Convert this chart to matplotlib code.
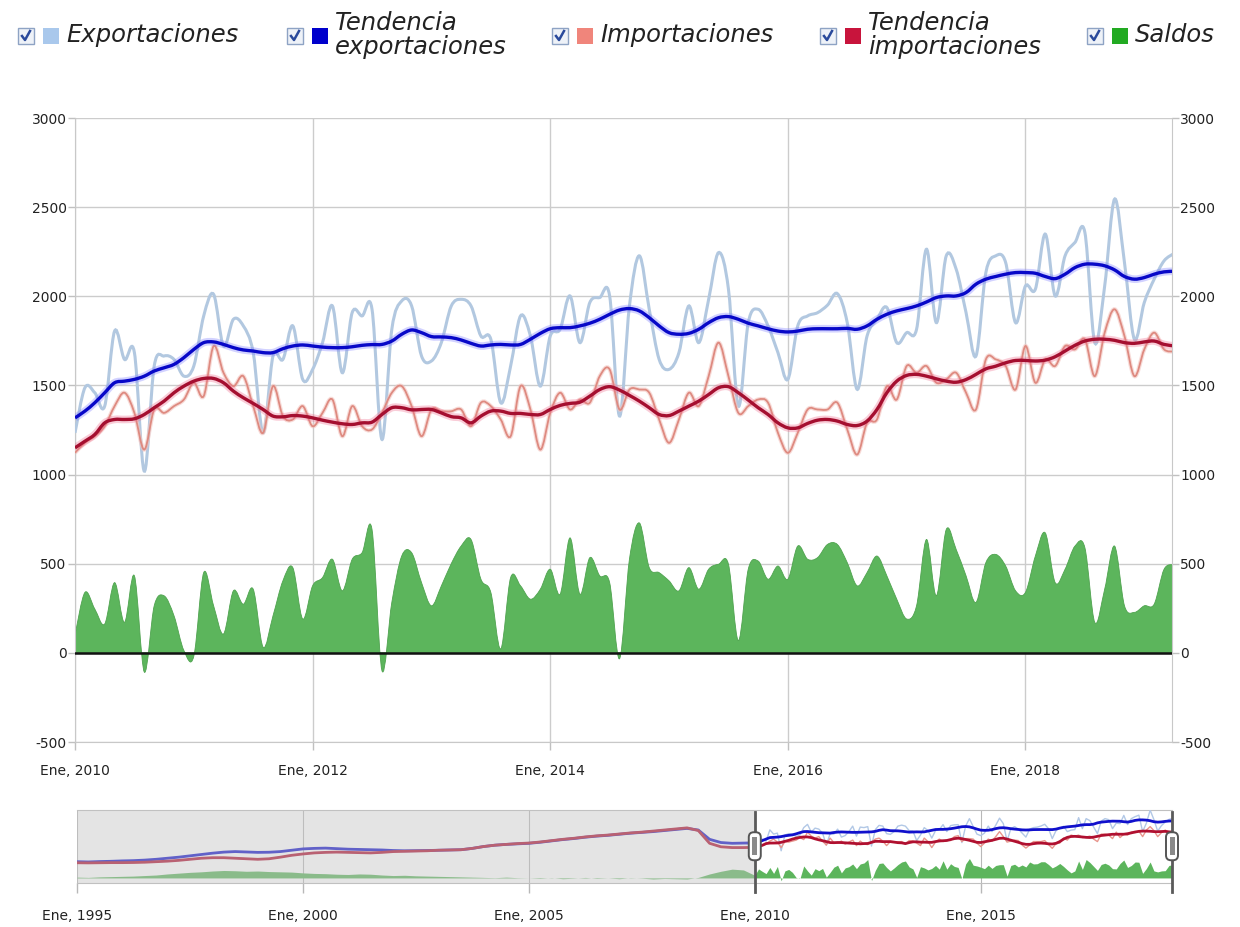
import numpy as np
import matplotlib
matplotlib.use("Agg")
import matplotlib.pyplot as plt
import matplotlib.transforms as mtransforms
from matplotlib.path import Path
from matplotlib.patches import PathPatch, Rectangle, FancyBboxPatch
from matplotlib.lines import Line2D

plt.rcParams["axes.unicode_minus"] = False

# monthly data, Ene 2010 .. Abr 2019 (last month only partly visible)
exportaciones = [1234, 1487, 1459, 1384, 1805, 1646, 1684, 1019, 1609, 1665, 1646, 1552, 1609, 1890, 2011,
                 1721, 1871, 1834, 1684, 1234, 1665, 1646, 1834, 1534, 1590, 1740, 1946, 1571, 1909, 1890,
                 1927, 1197, 1815, 1974, 1946, 1665, 1637, 1740, 1945,
                 1983, 1946, 1777, 1759, 1403, 1609, 1890, 1777, 1496, 1777, 1815, 2002, 1740, 1965, 1993,
                 2002, 1328, 1946, 2227, 1927, 1646, 1590, 1684, 1946, 1740, 1983, 2245, 2040, 1384, 1852,
                 1927, 1834, 1684, 1534, 1834, 1890, 1908, 1950, 2015,
                 1852, 1478, 1777, 1871, 1937, 1740, 1796, 1815, 2264, 1852, 2227, 2152, 1908, 1665, 2133,
                 2227, 2189, 1852, 2058, 2040, 2349, 2002, 2227, 2302, 2358, 1740, 2058, 2545, 2189, 1759,
                 1965, 2096, 2199, 2240]
importaciones = [1122, 1178, 1215, 1271, 1384, 1459, 1346, 1140, 1365, 1346, 1384, 1421, 1515, 1440, 1721,
                 1571, 1496, 1552, 1384, 1234, 1496, 1328, 1309, 1384, 1271, 1346, 1421, 1215, 1384, 1271,
                 1253, 1346, 1459, 1496, 1384, 1215, 1365, 1355, 1355,
                 1365, 1271, 1403, 1384, 1309, 1215, 1496, 1365, 1140, 1346, 1459, 1365, 1421, 1403, 1552,
                 1590, 1365, 1477, 1477, 1459, 1309, 1178, 1309, 1459, 1384, 1552, 1740, 1552, 1346, 1384,
                 1421, 1403, 1234, 1122, 1234, 1365, 1365, 1365, 1403,
                 1253, 1112, 1290, 1309, 1496, 1421, 1609, 1571, 1609, 1515, 1534, 1571, 1459, 1365, 1646,
                 1646, 1609, 1477, 1721, 1515, 1646, 1609, 1721, 1702, 1759, 1552, 1796, 1927, 1777, 1552,
                 1702, 1796, 1702, 1690]
tend_exportaciones = [1318, 1356, 1403, 1459, 1515, 1524, 1534, 1552, 1581, 1599, 1618, 1656, 1702, 1740, 1744,
                      1730, 1712, 1699, 1693, 1684, 1684, 1706, 1721, 1727, 1721, 1715, 1712, 1712, 1717, 1725,
                      1729, 1730, 1749, 1787, 1811, 1796, 1774, 1772, 1768,
                      1755, 1736, 1721, 1727, 1730, 1727, 1730, 1759, 1792, 1818, 1824, 1824, 1834, 1849, 1871,
                      1899, 1923, 1931, 1918, 1880, 1834, 1796, 1787, 1792, 1815, 1852, 1880, 1886, 1871, 1849,
                      1834, 1818, 1805, 1800, 1805, 1815, 1818, 1818, 1818,
                      1820, 1815, 1834, 1871, 1899, 1918, 1931, 1946, 1968, 1993, 2002, 2002, 2021, 2068, 2096,
                      2111, 2124, 2133, 2133, 2129, 2111, 2099, 2124, 2161, 2180, 2180, 2171, 2148, 2111, 2096,
                      2105, 2124, 2137, 2140]
tend_importaciones = [1150, 1187, 1225, 1290, 1309, 1309, 1313, 1337, 1375, 1412, 1459, 1496, 1524, 1539, 1539,
                      1515, 1468, 1431, 1399, 1365, 1328, 1324, 1331, 1328, 1318, 1305, 1294, 1285, 1281, 1290,
                      1294, 1337, 1375, 1375, 1363, 1365, 1365, 1346, 1325,
                      1318, 1290, 1328, 1356, 1356, 1343, 1343, 1337, 1337, 1365, 1388, 1399, 1406, 1440, 1477,
                      1493, 1474, 1444, 1412, 1375, 1337, 1331, 1356, 1384, 1412, 1449, 1487, 1493, 1459, 1418,
                      1375, 1337, 1290, 1262, 1262, 1287, 1305, 1309, 1300,
                      1281, 1275, 1300, 1365, 1459, 1524, 1556, 1562, 1552, 1537, 1524, 1518, 1533, 1562, 1593,
                      1608, 1627, 1640, 1640, 1637, 1642, 1661, 1693, 1725, 1749, 1759, 1759, 1753, 1740, 1736,
                      1744, 1749, 1730, 1722]
saldos = [100, 339, 246, 162, 394, 171, 432, -108, 264, 320, 208, 13, -19, 450, 264, 106, 348, 273, 357, 32,
          208, 404, 478, 190, 376, 422, 525, 348, 525, 562, 692, -99, 283, 543, 562, 394, 264, 375, 500,
          599, 636, 413, 339, 22, 422, 376, 301, 357, 469, 329, 645, 329, 534, 432, 394, -33, 525, 729, 478,
          450, 404, 348, 478, 357, 469, 497, 497, 69, 469, 515, 413, 487, 413, 599, 525, 534, 608, 608,
          506, 376, 450, 543, 432, 301, 190, 264, 636, 320, 692, 580, 432, 283, 506, 552, 487, 348, 339,
          543, 673, 394, 469, 599, 590, 171, 357, 599, 264, 227, 264, 273, 469, 495]

# quarterly history for the navigator, 1995 T1 .. 2009 T4
hist_exportaciones = [610, 600, 615, 625, 640, 650, 670, 700, 740, 780, 830, 880, 930, 970, 990, 975,
                      960, 965, 990, 1040, 1090, 1110, 1120, 1100, 1080, 1070, 1060, 1050, 1030, 1020, 1025, 1030,
                      1040, 1050, 1060, 1110, 1180, 1230, 1260, 1280, 1300, 1340, 1390, 1440, 1480, 1530, 1570, 1600,
                      1640, 1680, 1710, 1740, 1780, 1820, 1860, 1800, 1450, 1330, 1300, 1310]
hist_importaciones = [570, 565, 570, 575, 575, 580, 590, 610, 630, 660, 700, 740, 760, 760, 740, 720,
                      700, 720, 780, 850, 900, 940, 960, 970, 960, 950, 940, 960, 990, 1000, 1010, 1020,
                      1040, 1050, 1060, 1110, 1180, 1230, 1260, 1290, 1310, 1350, 1400, 1450, 1490, 1540, 1580, 1610,
                      1650, 1690, 1720, 1760, 1800, 1840, 1880, 1780, 1300, 1170, 1140, 1140]
hist_saldos = [30, 20, 40, 50, 60, 70, 90, 110, 150, 180, 210, 230, 260, 280, 270, 250,
               260, 240, 230, 220, 190, 170, 160, 140, 130, 150, 140, 110, 90, 100, 80, 70,
               60, 50, 40, 30, 20, 10, 30, 10, 0, -20, 10, -30, -10, 20, -20, 0,
               -30, 10, -10, -40, -20, -30, -40, 20, 150, 250, 330, 300]

x_ticks_main = [0, 24, 48, 72, 96]
x_labels_main = ["Ene, 2010", "Ene, 2012", "Ene, 2014", "Ene, 2016", "Ene, 2018"]
x_ticks_nav = [-180, -120, -60, 0, 60]
x_labels_nav = ["Ene, 1995", "Ene, 2000", "Ene, 2005", "Ene, 2010", "Ene, 2015"]

W, H = 1240, 927
C_EXP, C_TEXP = "#a9c8ec", "#0000cc"
C_IMP, C_TIMP = "#f0857b", "#c8143c"
C_SAL = "#22aa22"


def fx(x):
    return x / W


def fy(y):
    return 1 - y / H


def spline_path(x, y, base=None):
    x = np.asarray(x, float)
    y = np.asarray(y, float)
    n = len(x)
    verts = [(x[0], y[0])]
    codes = [Path.MOVETO]
    for i in range(n - 1):
        i0, i3 = max(i - 1, 0), min(i + 2, n - 1)
        c1 = (x[i] + (x[i + 1] - x[i0]) / 6, y[i] + (y[i + 1] - y[i0]) / 6)
        c2 = (x[i + 1] - (x[i3] - x[i]) / 6, y[i + 1] - (y[i3] - y[i]) / 6)
        verts += [c1, c2, (x[i + 1], y[i + 1])]
        codes += [Path.CURVE4] * 3
    if base is not None:
        verts += [(x[-1], base), (x[0], base), (x[0], base)]
        codes += [Path.LINETO, Path.LINETO, Path.CLOSEPOLY]
    return Path(verts, codes)


months = np.arange(len(exportaciones))
xmax = 110.8

fig = plt.figure(figsize=(12.4, 9.27), dpi=100)
ax = fig.add_axes([fx(75), fy(742), fx(1172 - 75), (742 - 118) / H])
ax.set_xlim(0, xmax)
ax.set_ylim(-500, 3000)

ax.add_patch(PathPatch(spline_path(months, saldos, base=0), fc="#5cb55c", ec="#4fa34f", lw=0.6, zorder=2))
ax.add_patch(PathPatch(spline_path(months, exportaciones), fill=False, ec="#b2c8e0", lw=2.2, zorder=3))
ax.add_patch(PathPatch(spline_path(months, importaciones), fill=False, ec="#f3c4bf", lw=3, alpha=0.6, zorder=3))
ax.add_patch(PathPatch(spline_path(months, importaciones), fill=False, ec="#de8a80", lw=1.3, zorder=3))
ax.add_patch(PathPatch(spline_path(months, tend_exportaciones), fill=False, ec="#8080ff", lw=5.5, alpha=0.35, zorder=4))
ax.add_patch(PathPatch(spline_path(months, tend_exportaciones), fill=False, ec="#0808c8", lw=2.4, zorder=4))
ax.add_patch(PathPatch(spline_path(months, tend_importaciones), fill=False, ec="#f07090", lw=5.5, alpha=0.35, zorder=4))
ax.add_patch(PathPatch(spline_path(months, tend_importaciones), fill=False, ec="#a50f30", lw=2.4, zorder=4))
ax.axhline(0, color="#111111", lw=1.8, zorder=5)

ax.set_yticks(range(-500, 3001, 500))
ax.set_xticks(x_ticks_main)
ax.set_xticklabels(x_labels_main)
ax.grid(True, color="#cccccc", lw=1)
ax.set_axisbelow(True)
ax.tick_params(axis="y", left=True, right=True, labelleft=True, labelright=True, direction="out",
               length=5, width=1, color="#c0c0c0", labelsize=10, labelcolor="#222222", pad=1)
ax.tick_params(axis="x", direction="out", length=6, width=1, color="#c0c0c0", labelsize=10,
               labelcolor="#222222", pad=10)
ax.spines["top"].set_visible(False)
for s in ("left", "right", "bottom"):
    ax.spines[s].set_color("#c8c8c8")

# navigator
nav = fig.add_axes([fx(77), fy(883), fx(1172 - 77), (883 - 809.5) / H])
nav.set_xlim(-180, xmax)
nav.set_ylim(-190, 2570)
x_hist = -180 + 3 * np.arange(len(hist_exportaciones))
nx = np.concatenate([x_hist, months])
nav.fill_between(nx, 0, np.concatenate([hist_saldos, saldos]), color="#5cb55c", lw=0, zorder=2)
nav.plot(nx, np.concatenate([hist_exportaciones, exportaciones]), color="#b2c8e6", lw=1, zorder=3)
nav.plot(nx, np.concatenate([hist_importaciones, importaciones]), color="#e8958c", lw=1, zorder=3)
nav.plot(nx, np.concatenate([hist_exportaciones, tend_exportaciones]), color="#1010cc", lw=2, zorder=4)
nav.plot(nx, np.concatenate([hist_importaciones, tend_importaciones]), color="#b01030", lw=2, zorder=4)
nav.axvspan(-180, 0, color="#c4c4c4", alpha=0.45, lw=0, zorder=5)
nav.set_xticks(x_ticks_nav)
nav.set_xticklabels(x_labels_nav)
nav.set_yticks([])
nav.grid(True, axis="x", color="#b8b8b8", lw=0.8)
nav.set_axisbelow(True)
nav.tick_params(axis="x", direction="out", length=7, width=1, color="#b8b8b8", labelsize=10,
                labelcolor="#222222", pad=12)
for s in ("left", "right"):
    nav.spines[s].set_visible(False)
for s in ("top", "bottom"):
    nav.spines[s].set_color("#c0c0c0")

# navigator handles
trans = mtransforms.blended_transform_factory(nav.transData, nav.transAxes)
fig.canvas.draw()
for xd in (0, xmax):
    nav.add_line(Line2D([xd, xd], [-0.12, 0.96], transform=trans, color="#5a5a5a", lw=2,
                        clip_on=False, zorder=8))
    X = nav.transData.transform((xd, 0))[0]
    Y = nav.transAxes.transform((0, 0.5))[1]
    nav.add_patch(FancyBboxPatch((X - 6, Y - 14), 12, 28, boxstyle="round,pad=0,rounding_size=5",
                                 fc="white", ec="#555555", lw=1.4, transform=mtransforms.IdentityTransform(),
                                 clip_on=False, zorder=9))
    nav.add_patch(Rectangle((X - 2.5, Y - 9), 5, 18, fc="#8a8a8a", ec="none",
                            transform=mtransforms.IdentityTransform(), clip_on=False, zorder=10))

# legend
legend_items = [
    (18, C_EXP, "Exportaciones"),
    (287, C_TEXP, "Tendencia\nexportaciones"),
    (552, C_IMP, "Importaciones"),
    (820, C_TIMP, "Tendencia\nimportaciones"),
    (1087, C_SAL, "Saldos"),
]
for x0, col, label in legend_items:
    fig.patches.append(Rectangle((fx(x0), fy(44)), 16 / W, 16 / H, transform=fig.transFigure,
                                 fc="#eef2f8", ec="#8ea3c4", lw=1))
    fig.lines.append(Line2D([fx(x0 + 4), fx(x0 + 7), fx(x0 + 12)], [fy(36), fy(40), fy(31)],
                            transform=fig.transFigure, color="#2a4a9c", lw=1.8))
    fig.patches.append(Rectangle((fx(x0 + 25), fy(44)), 16 / W, 16 / H, transform=fig.transFigure,
                                 fc=col, ec="none"))
    fig.text(fx(x0 + 48), fy(35), label, fontsize=17.5, style="italic", va="center", ha="left",
             color="#222222", linespacing=0.95)

fig.savefig("out.png", dpi=100)
